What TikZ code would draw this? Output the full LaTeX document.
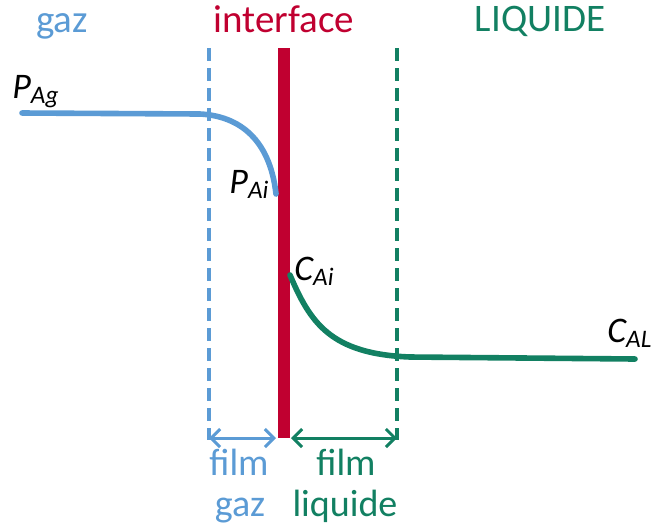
\documentclass[tikz,border=0pt]{standalone}
\usepackage{fontspec}
\setmainfont{Carlito}
\usetikzlibrary{arrows.meta}
\definecolor{gazblue}{RGB}{91,155,213}
\definecolor{intred}{RGB}{192,0,48}
\definecolor{liqgreen}{RGB}{18,128,98}

\begin{document}
\begin{tikzpicture}[
  x=0.5pt, y=-0.5pt,
  title/.style={font=\fontsize{19.5}{23}\selectfont, inner sep=0pt, anchor=base},
  conc/.style={font=\fontsize{18}{22}\selectfont\itshape, inner sep=0pt, text=black, anchor=base west},
  film/.style={font=\fontsize{19}{23}\selectfont, inner sep=0pt, anchor=base},
  bound/.style={dash pattern=on 6.5pt off 3.5pt, line width=1.7pt},
  prof/.style={line width=2.8pt, line cap=round},
  span/.style={{Straight Barb[length=4.5pt,width=9pt]}-{Straight Barb[length=4.5pt,width=9pt]}, line width=1.5pt},
]
  \useasboundingbox (0,0) rectangle (653,526);

  % zones
  \node[title, text=gazblue] (gaz) at (62,32) {gaz};
  \node[title, text=intred] (itf) at (284,32) {interface};
  \node[title, text=liqgreen] (liq) at (540,31) {LIQUIDE};

  % film boundaries and interface
  \coordinate (gtop) at (209,48);
  \coordinate (gbot) at (209,440);
  \coordinate (ltop) at (397,48);
  \coordinate (lbot) at (397,440);
  \coordinate (itop) at (284,48);
  \coordinate (ibot) at (284,438);
  \draw[bound, gazblue] (gtop) -- (gbot);
  \draw[bound, liqgreen] (ltop) -- (lbot);
  \draw[intred, line width=6pt] (itop) -- (ibot);

  % concentration profiles
  \coordinate (pag) at (22,113);
  \coordinate (pai) at (276,194);
  \coordinate (cai) at (290,275);
  \coordinate (cal) at (635,359);
  \draw[prof, gazblue] (pag) -- (200,114) .. controls (240,116) and (270,140) .. (pai);
  \draw[prof, liqgreen] (cai) .. controls (310,322) and (330,354) .. (410,357) -- (cal);

  \node[conc] (lpag) at (12,98) {P\textsubscript{Ag}};
  \node[conc] (lpai) at (229,193) {P\textsubscript{Ai}};
  \node[conc] (lcai) at (294,280) {C\textsubscript{Ai}};
  \node[conc] (lcal) at (607,342) {C\textsubscript{AL}};

  % film widths
  \coordinate (ga) at (209,438);
  \coordinate (gb) at (276,438);
  \coordinate (la) at (291,438);
  \coordinate (lb) at (397,438);
  \draw[span, gazblue] (ga) -- (gb);
  \draw[span, liqgreen] (la) -- (lb);
  \node[film, text=gazblue] (fg1) at (239,475) {film};
  \node[film, text=gazblue] (fg2) at (240,516) {gaz};
  \node[film, text=liqgreen] (fl1) at (346,475) {film};
  \node[film, text=liqgreen] (fl2) at (345,516) {liquide};
\end{tikzpicture}
\end{document}
